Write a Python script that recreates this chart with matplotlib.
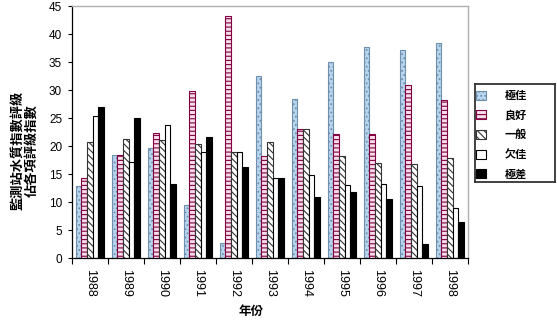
import numpy as np
import matplotlib.pyplot as plt

plt.rcParams['font.family'] = ['Liberation Sans', 'Noto Sans CJK TC', 'DejaVu Sans']
plt.rcParams['hatch.linewidth'] = 0.8

# 數據
years = ['1988', '1989', '1990', '1991', '1992', '1993', '1994', '1995', '1996', '1997', '1998']
series_names = ['極佳', '良好', '一般', '欠佳', '極差']
excellent = [12.8, 18.4, 19.7, 9.5, 2.7, 32.5, 28.4, 35.0, 37.7, 37.2, 38.5]
good = [14.3, 18.4, 22.4, 29.8, 43.3, 18.3, 23.0, 22.1, 22.1, 30.9, 28.3]
fair = [20.7, 21.2, 21.1, 20.3, 18.9, 20.8, 23.0, 18.3, 16.9, 16.8, 17.9]
poor = [25.4, 17.1, 23.7, 18.9, 18.9, 14.3, 14.9, 13.1, 13.2, 12.9, 9.0]
bad = [27.0, 25.0, 13.2, 21.7, 16.3, 14.3, 10.9, 11.8, 10.5, 2.6, 6.5]
values = [excellent, good, fair, poor, bad]

# 樣式: 填色, 邊框/花紋顏色, 花紋
styles = [
    ('#b9d5ee', '#6f8fae', '....'),
    ('#f7dcea', '#800040', '----'),
    ('white', '#333333', '\\\\\\\\\\'),
    ('white', 'black', None),
    ('black', 'black', None),
]

fig = plt.figure(figsize=(5.57, 3.23), dpi=100)
ax = fig.add_axes([0.129, 0.201, 0.711, 0.780])

x = np.arange(len(years))
w = 0.156
for i, (name, vals) in enumerate(zip(series_names, values)):
    fc, ec, hatch = styles[i]
    ax.bar(x + (i - 2) * w, vals, width=w, color=fc, edgecolor=ec,
           hatch=hatch, linewidth=0.8, label=name)

ax.set_xlim(-0.5, len(years) - 0.5)
ax.set_ylim(0, 45)
ax.set_yticks(np.arange(0, 46, 5))
ax.tick_params(axis='y', labelsize=8.5, length=3, width=0.8, pad=4)

# 年份標籤在組中央，刻度線在組與組之間
ax.set_xticks(x)
ax.set_xticklabels(years, rotation=270, fontsize=9)
ax.tick_params(axis='x', length=0, pad=8)
ax.set_xticks(np.arange(-0.5, len(years), 1), minor=True)
ax.tick_params(axis='x', which='minor', length=4, width=0.8, direction='out')

for s in ['top', 'right']:
    ax.spines[s].set_color('#b0b0b0')
    ax.spines[s].set_linewidth(1.0)
for s in ['left', 'bottom']:
    ax.spines[s].set_color('black')
    ax.spines[s].set_linewidth(0.9)

fig.text(0.451, 0.035, '年份', ha='center', va='center', fontsize=9,
         fontweight='bold', family=['Noto Sans CJK TC'])
fig.text(0.045, 0.535, '監測站水質指數評級\n佔各項評級指數', ha='center', va='center',
         rotation=90, fontsize=9.5, fontweight='bold', linespacing=1.05,
         family=['Noto Sans CJK TC'])

# 圖例外框：用一個空白 axes 畫，較闊
box = fig.add_axes([474.5 / 557, 1 - 181.5 / 323, 80 / 557, 98 / 323])
box.set_xticks([])
box.set_yticks([])
box.patch.set_alpha(0)
for s in box.spines.values():
    s.set_color('#333333')
    s.set_linewidth(1.3)

handles, labels = ax.get_legend_handles_labels()
leg = box.legend(handles, labels, loc='upper left', bbox_to_anchor=(476 / 557, 1 - 89 / 323),
                 bbox_transform=fig.transFigure,
                 frameon=False, handlelength=0.9, handleheight=0.9,
                 handletextpad=1.7, labelspacing=0.6, borderpad=0.0,
                 borderaxespad=0.0,
                 prop={'family': 'Noto Sans CJK TC', 'size': 8, 'weight': 'bold'})

fig.savefig('out.png', dpi=100)
